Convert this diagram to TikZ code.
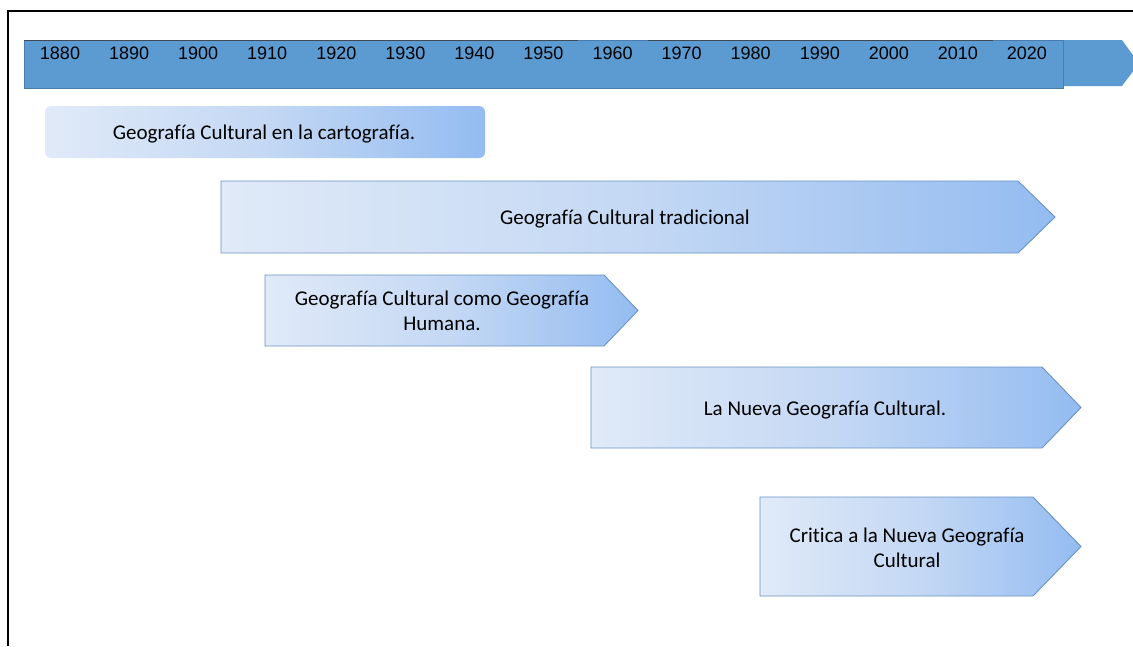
\documentclass[tikz,border=0pt]{standalone}
\usepackage{fontspec}
\setmainfont[Ligatures=NoCommon]{Carlito}
\newfontfamily\yearfont{Liberation Sans}
\definecolor{barblue}{HTML}{5B9BD2}
\definecolor{barline}{HTML}{4A7DAE}
\definecolor{topline}{HTML}{3F4A55}
\definecolor{gradL}{HTML}{E0EAF8}
\definecolor{gradM}{HTML}{C4D8F4}
\definecolor{gradR}{HTML}{94BCF1}
\definecolor{boxline}{HTML}{6A92C2}
\begin{document}
\begin{tikzpicture}[x=1pt,y=-1pt,
  year/.style={font=\yearfont\fontsize{18}{20}\selectfont, anchor=center, inner sep=0pt},
  lbl/.style={font=\fontsize{21}{25}\selectfont, align=center, inner sep=0pt, anchor=center},
  gradfill/.style={left color=gradL, right color=gradR, middle color=gradM},
  chevbox/.style={gradfill, draw=boxline, line width=0.9pt},
  frame/.style={draw=black, line width=2pt}]
\useasboundingbox (0,0) rectangle (1133,646);
% frame
\coordinate (fTL) at (8,11);
\coordinate (fBL) at (8,646);
\coordinate (fTR) at (1133,11);
\draw[frame] (fBL) -- (fTL) -- (fTR);
% timeline bar
\fill[barblue] (1000,40) -- (1122,40) -- (1139,63.5) -- (1122,86) -- (1000,86) -- cycle;
\path[fill=barblue, draw=barline, line width=0.8pt] (24,40) rectangle (1063,88);
\draw[topline, line width=1pt] (24,40) -- (578,40);
\draw[topline, line width=1pt] (648,40) -- (993,40);
\foreach \yr [count=\i from 0] in {1880,1890,1900,1910,1920,1930,1940,1950,1960,1970,1980,1990,2000,2010,2020} {
  \node[year] (y\yr) at (60+69.07*\i,53) {\yr};
}
% box 1 rounded
\path[gradfill, rounded corners=6pt] (45,106) rectangle (485,158);
\node[lbl] (b1) at (264,134) {Geografía Cultural en la cartografía.};
% box 2
\path[chevbox] (221,181) -- (1018,181) -- (1055,217) -- (1018,253) -- (221,253) -- cycle;
\node[lbl] (b2) at (625,219) {Geografía Cultural tradicional};
% box 3
\path[chevbox] (265,275) -- (604,275) -- (638,310.5) -- (604,346) -- (265,346) -- cycle;
\node[lbl] (b3) at (442,310.5) {Geografía Cultural como Geografía\\Humana.};
% box 4
\path[chevbox] (591,367) -- (1042,367) -- (1081,407.5) -- (1042,448) -- (591,448) -- cycle;
\node[lbl] (b4) at (825,410) {La Nueva Geografía Cultural.};
% box 5
\path[chevbox] (760,497) -- (1033,497) -- (1081,546.5) -- (1033,596) -- (760,596) -- cycle;
\node[lbl] (b5) at (907,547.5) {Critica a la Nueva Geografía\\Cultural};
\end{tikzpicture}
\end{document}
